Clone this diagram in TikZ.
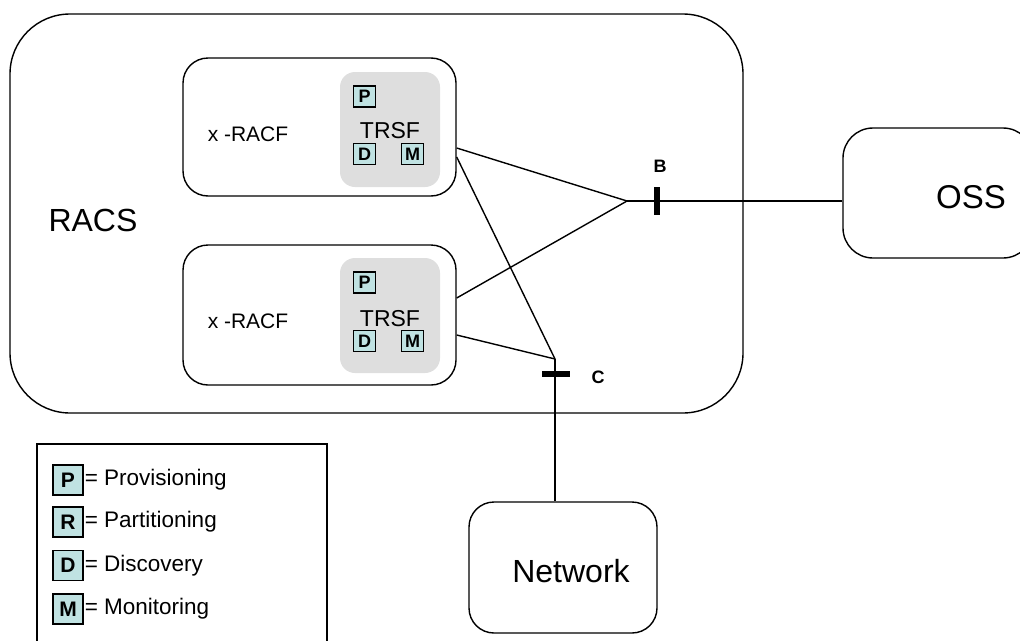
\documentclass[tikz,border=0pt]{standalone}
\usepackage{fontspec}
\setmainfont{Liberation Sans}
\usepackage{tikz}
\usetikzlibrary{positioning, calc}
\usepackage{xcolor}
\definecolor{keyfill}{RGB}{192,226,226}
\definecolor{trsfgray}{RGB}{222,222,222}

\tikzset{
    box/.style={draw, line width=1.4pt, rounded corners=#1, inner sep=0pt},
    keybox/.style={draw, line width=1.1pt, fill=keyfill, minimum width=22pt, minimum height=21pt,
        inner sep=0pt, font=\fontsize{18}{18}\selectfont\bfseries},
    bigkey/.style={keybox, line width=1.3pt, minimum width=30pt, minimum height=30pt, font=\fontsize{21}{21}\selectfont\bfseries},
    legtext/.style={font=\fontsize{22.5}{22.5}\selectfont, inner sep=0pt},
    link/.style={line width=1.4pt},
    tick/.style={line width=6pt}
}

\begin{document}
\begin{tikzpicture}[x=1pt, y=-1pt]
    \useasboundingbox (0,0) rectangle (1020,640);
    % outer RACS domain
    \node[box=60pt, minimum width=733pt, minimum height=399pt] (racs) at (376.5,213.5) {};
    \node[font=\fontsize{32}{32}\selectfont] at (93,220) {RACS};
    % first x-RACF
    \node[box=25pt, minimum width=273pt, minimum height=138pt] (xr1) at (319.5,127) {};
    \node[font=\fontsize{21}{21}\selectfont] at (248,134) {x -RACF};
    \node[fill=trsfgray, rounded corners=15pt, minimum width=100pt, minimum height=115pt] (trsf1) at (390,129.5) {};
    \node[font=\fontsize{23}{23}\selectfont] at (390,131) {TRSF};
    \node[keybox] (p1) at (364.5,96.5) {P};
    \node[keybox] (d1) at (364.5,154) {D};
    \node[keybox] (m1) at (412.5,154) {M};
    % second x-RACF
    \node[box=25pt, minimum width=273pt, minimum height=140pt] (xr2) at (319.5,315) {};
    \node[font=\fontsize{21}{21}\selectfont] at (248,321) {x -RACF};
    \node[fill=trsfgray, rounded corners=15pt, minimum width=100pt, minimum height=115pt] (trsf2) at (390,315.5) {};
    \node[font=\fontsize{23}{23}\selectfont] at (390,318.5) {TRSF};
    \node[keybox] (p2) at (364.5,282.5) {P};
    \node[keybox] (d2) at (364.5,341) {D};
    \node[keybox] (m2) at (412.5,341) {M};
    % external boxes
    \node[box=30pt, minimum width=190pt, minimum height=130pt] (oss) at (938,193) {};
    \node[font=\fontsize{33}{33}\selectfont] at (971,197) {OSS};
    \node[box=25pt, minimum width=188pt, minimum height=131pt] (net) at (563,567.5) {};
    \node[font=\fontsize{32}{32}\selectfont] at (571,571) {Network};
    % reference points
    \coordinate (jB) at (627,201);
    \coordinate (jC) at (555,359);
    \draw[link] ([yshift=-21pt]xr1.east) -- (jB);
    \draw[link] ([yshift=17pt]xr2.east) -- (jB);
    \draw[link] ([yshift=-30pt]xr1.east) -- (jC);
    \draw[link] ([yshift=-20pt]xr2.east) -- (jC);
    \draw[link] (jB) -- (jB -| oss.west);
    \draw[link] (jC) -- (jC |- net.north);
    \draw[tick] (657,187) -- (657,215);
    \draw[tick] (542,374) -- (570,374);
    \node[font=\fontsize{18}{18}\selectfont\bfseries] at (660,166) {B};
    \node[font=\fontsize{18}{18}\selectfont\bfseries] at (598,377) {C};
    % legend
    \draw[line width=1.4pt] (37,444) rectangle (327,648);
    \node[bigkey] (kp) at (68,480) {P};
    \node[bigkey] (kr) at (68,522) {R};
    \node[bigkey] (kd) at (68,565.5) {D};
    \node[bigkey] (km) at (68,609) {M};
    \node[legtext, right=1pt of kp] {= Provisioning};
    \node[legtext, right=1pt of kr] {= Partitioning};
    \node[legtext, right=1pt of kd] {= Discovery};
    \node[legtext, right=1pt of km] {= Monitoring};
\end{tikzpicture}
\end{document}
